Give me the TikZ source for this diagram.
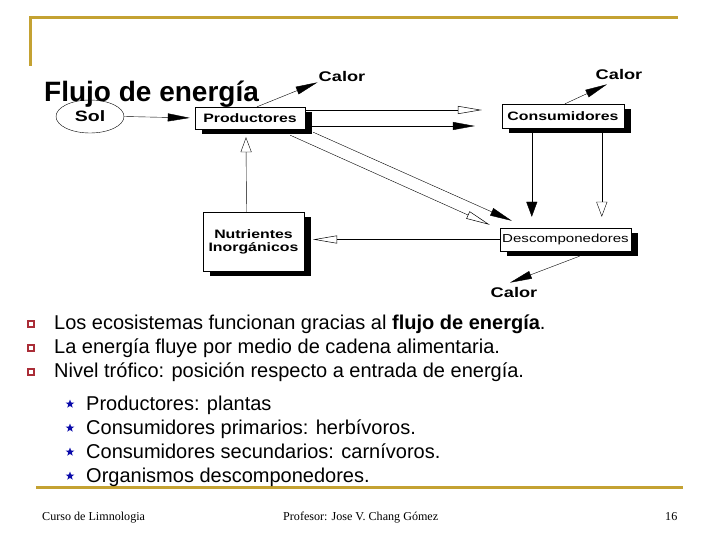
\documentclass[tikz,border=0pt]{standalone}
\usepackage{fontspec}
\setmainfont{Liberation Sans}
\newfontfamily\diagfont[FakeStretch=1.3]{Liberation Sans}
\newfontfamily\footfont{Liberation Serif}
\usetikzlibrary{arrows.meta,calc,shadows,shapes.geometric}
\definecolor{marco}{RGB}{196,162,50}
\definecolor{vineta}{RGB}{170,45,55}
\definecolor{estrella}{RGB}{10,10,170}
\tikzset{
  caja/.style={draw, fill=white, inner sep=1pt, font=\diagfont\bfseries\fontsize{12.2}{13}\selectfont,
    drop shadow={shadow xshift=7pt, shadow yshift=-5pt, fill=black, opacity=1}},
  calor/.style={font=\diagfont\bfseries\fontsize{14}{15}\selectfont, inner sep=1pt},
  llena/.style={-{Triangle[length=22pt,width=8pt]}},
  hueca/.style={-{Triangle[open,length=24pt,width=8pt,line width=0.5pt]}},
  llenacorta/.style={-{Triangle[length=15pt,width=11pt]}},
  huecacorta/.style={-{Triangle[open,length=15pt,width=11pt]}},
  item/.style={anchor=base west, inner sep=0pt, font=\fontsize{20}{22}\selectfont},
  cuadro/.style={draw=vineta, fill=white, line width=1.4pt, minimum size=6pt, inner sep=0pt},
  estrellita/.style={star, star points=5, star point ratio=2.4, fill=estrella, minimum size=9pt, inner sep=0pt},
  pie/.style={anchor=base west, inner sep=0pt, font=\footfont\fontsize{12.1}{13}\selectfont},
}
\begin{document}
\begin{tikzpicture}[x=1pt,y=-1pt]
  \useasboundingbox[fill=white] (0,0) rectangle (720,540);
  \draw[marco, line width=3pt] (30,66) -- (30,18) -- (678,18);
  \draw[marco, line width=3pt] (36,487) -- (683,487);

  \node[ellipse, draw, minimum width=68pt, minimum height=33pt, inner sep=0pt,
    font=\diagfont\bfseries\fontsize{15}{16}\selectfont] (sol) at (90,116.5) {Sol};
  \node[caja, minimum width=110pt, minimum height=22pt] (prod) at (250,118) {Productores};
  \node[caja, minimum width=122pt, minimum height=24pt] (cons) at (563,116) {Consumidores};
  \node[caja, minimum width=131pt, minimum height=23pt,
    font=\diagfont\fontsize{11.6}{13}\selectfont] (desc) at (565.5,239.5) {Descomponedores};
  \node[caja, minimum width=101pt, minimum height=59pt, align=center] (nutr) at (253.5,241.5) {Nutrientes\\Inorgánicos};
  \node[calor] (calorA) at (342,76) {Calor};
  \node[calor] (calorB) at (619,74) {Calor};
  \node[calor] (calorC) at (514,292) {Calor};

  \draw[llena, shorten >=5pt] (sol.east) -- (prod.west);
  \draw[llena] ($(prod.north)+(7,0)$) -- (calorA.south west);
  \draw[llena] ($(cons.north)+(2,0)$) -- ($(calorB.south)+(-12,4)$);
  \draw[hueca] ($(prod.east)+(0,-8)$) -- ($(prod.east -| cons.west)+(-20,-8)$);
  \draw[llena] ($(prod.east)+(7,8)$) -- ($(prod.east -| cons.west)+(-27,8)$);
  \draw[hueca] ($(prod.south east)+(-15,6)$) -- ($(desc.north west)+(-10,-3)$);
  \draw[llena] ($(prod.south east)+(8,3)$) -- ($(desc.north west)+(12,-7)$);
  \draw[llenacorta] ($(cons.south west)+(30,0)$) -- ($(desc.north west)+(32,-11)$);
  \draw[huecacorta] ($(cons.south west)+(100,0)$) -- ($(desc.north west)+(102,-11)$);
  \draw[hueca, line width=1.6pt] (desc.west) -- ($(desc.west -| nutr.east)+(9,0)$);
  \draw[huecacorta] ($(nutr.north)+(-7,0)$) -- ($(prod.south)+(-4,8)$);
  \draw[llena] ($(desc.south)+(14,5)$) -- ($(calorC.north)+(-4,-3)$);

  \node[anchor=base west, inner sep=0pt, font=\bfseries\fontsize{28}{30}\selectfont] (titulo) at (44,102) {Flujo de energía};

  \node[cuadro] (c1) at (31,324) {};
  \node[cuadro] (c2) at (31,348) {};
  \node[cuadro] (c3) at (31,372) {};
  \node[item] (t1) at (54,329) {Los ecosistemas funcionan gracias al \textbf{flujo de energía}.};
  \node[item] (t2) at (54,353) {La energía fluye por medio de cadena alimentaria.};
  \node[item] (t3) at (54,377) {Nivel trófico: posición respecto a entrada de energía.};

  \node[estrellita] (e1) at (70,404) {};
  \node[estrellita] (e2) at (70,428) {};
  \node[estrellita] (e3) at (70,452) {};
  \node[estrellita] (e4) at (70,476) {};
  \node[item] (s1) at (86,410) {Productores: plantas};
  \node[item] (s2) at (86,434) {Consumidores primarios: herbívoros.};
  \node[item] (s3) at (86,458) {Consumidores secundarios: carnívoros.};
  \node[item] (s4) at (86,482) {Organismos descomponedores.};

  \node[pie] (curso) at (42,520) {Curso de Limnologia};
  \node[pie] (prof) at (283,520) {Profesor: Jose V. Chang Gómez};
  \node[pie] (pag) at (665,520) {16};
\end{tikzpicture}
\end{document}
